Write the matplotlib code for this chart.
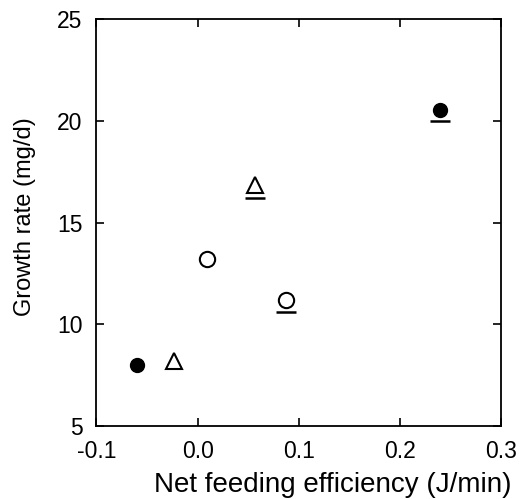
import matplotlib
matplotlib.use('Agg')
import matplotlib.pyplot as plt

plt.rcParams['font.family'] = ['Liberation Sans', 'DejaVu Sans']

# filled circles
filled_x = [-0.060, 0.240]
filled_y = [8.0, 20.55]
# open triangles
tri_x = [-0.023, 0.057]
tri_y = [8.2, 16.85]
# open circles
open_x = [0.009, 0.087]
open_y = [13.2, 11.2]

# short lines under some points
bar_x = [0.240, 0.057, 0.087]
bar_y = [20.0, 16.22, 10.62]

x_ticks = [-0.1, 0.0, 0.1, 0.2, 0.3]
x_labels = ['-0.1', '0.0', '0.1', '0.2', '0.3']
y_ticks = [5, 10, 15, 20, 25]

fig = plt.figure(figsize=(5.27, 4.99), dpi=100)
ax = fig.add_axes([0.183, 0.146, 0.768, 0.816])

ax.plot(filled_x, filled_y, 'o', color='black', markersize=10, linestyle='none')
ax.plot(tri_x, tri_y, '^', markerfacecolor='white', markeredgecolor='black',
        markersize=11, markeredgewidth=1.5, linestyle='none')
ax.plot(open_x, open_y, 'o', markerfacecolor='white', markeredgecolor='black',
        markersize=11, markeredgewidth=1.5, linestyle='none')
ax.plot(bar_x, bar_y, '_', color='black', markersize=15, markeredgewidth=1.8,
        linestyle='none')

ax.set_xlim(-0.1, 0.3)
ax.set_ylim(5, 25)
ax.set_xticks(x_ticks)
ax.set_xticklabels(x_labels)
ax.set_yticks(y_ticks)
ax.tick_params(direction='in', length=6, width=1.2, labelsize=16.5,
               top=True, right=True, pad=10)
for s in ax.spines.values():
    s.set_linewidth(1.3)

ax.set_xlabel('Net feeding efficiency (J/min)', fontsize=20)
ax.set_ylabel('Growth rate (mg/d)', fontsize=17)
ax.xaxis.set_label_coords(0.585, -0.112)
ax.yaxis.set_label_coords(-0.15, 0.515)

fig.savefig('out.png', dpi=100)
